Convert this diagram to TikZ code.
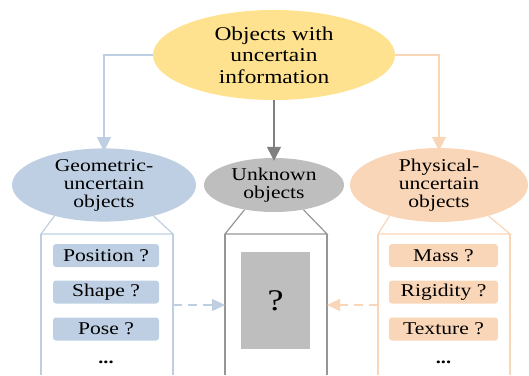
\documentclass[tikz,border=0pt]{standalone}
\usepackage{fontspec}
\setmainfont{Liberation Serif}[FakeStretch=1.2]
\usetikzlibrary{shapes.geometric,arrows.meta}
\definecolor{cyel}{RGB}{255,226,143}
\definecolor{cblue}{RGB}{191,207,227}
\definecolor{cpeach}{RGB}{250,214,184}
\definecolor{cgray}{RGB}{190,190,190}
\definecolor{cdgray}{RGB}{128,128,128}
\definecolor{cline}{RGB}{150,150,150}
\tikzset{
  ell/.style={ellipse, inner sep=0pt, align=center, font=\fontsize{18}{18}\selectfont},
  item/.style={rounded corners=3pt, inner sep=0pt, minimum height=23pt, font=\fontsize{18}{18}\selectfont},
  conn/.style={line width=1.3pt, -{Triangle[length=14pt,width=14pt]}},
  dconn/.style={line width=1.3pt, dash pattern=on 9pt off 6pt, -{Triangle[length=13pt,width=12pt]}},
  boxline/.style={line width=1.2pt},
  dots/.style={font=\fontsize{17}{17}\selectfont\bfseries}
}
\begin{document}
\begin{tikzpicture}[x=1pt,y=-1pt]
\useasboundingbox (0,0) rectangle (529,375);
% main ellipses
\node[ell, fill=cyel, minimum width=242pt, minimum height=90pt, font=\fontsize{19.5}{21.5}\selectfont] (top) at (274,55) {Objects with\\uncertain\\information};
\node[ell, fill=cblue, minimum width=184pt, minimum height=54pt] (geo) at (104,185) {Geometric-\\uncertain\\objects};
\node[ell, fill=cgray, minimum width=140pt, minimum height=54pt] (unk) at (274,185) {Unknown\\objects};
\node[ell, fill=cpeach, minimum width=178pt, minimum height=54pt] (phys) at (439,185) {Physical-\\uncertain\\objects};
% top connectors
\draw[conn, cblue] (top.west) -| ([yshift=-3pt]geo.north);
\draw[conn, cdgray] (top.south) -- ([yshift=-3pt]unk.north);
\draw[conn, cpeach] (top.east) -| ([yshift=-3pt]phys.north);
% box corner coordinates
\coordinate (g1) at (41,234);  \coordinate (g2) at (173,234);
\coordinate (g3) at (41,375);  \coordinate (g4) at (173,375);
\coordinate (u1) at (225,234); \coordinate (u2) at (327,234);
\coordinate (u3) at (225,375); \coordinate (u4) at (327,375);
\coordinate (p1) at (378,234); \coordinate (p2) at (510,234);
\coordinate (p3) at (378,375); \coordinate (p4) at (510,375);
% boxes
\draw[boxline, cblue] (geo.212) -- (g1) -- (g2) -- (geo.328);
\draw[boxline, cblue] (g1) -- (g3) (g2) -- (g4);
\draw[boxline, cline] (unk.220) -- (u1) -- (u2) -- (unk.320);
\draw[boxline, cline] (u1) -- (u3) (u2) -- (u4);
\draw[boxline, cpeach] (phys.212) -- (p1) -- (p2) -- (phys.328);
\draw[boxline, cpeach] (p1) -- (p3) (p2) -- (p4);
% geometric items
\node[item, fill=cblue, minimum width=106pt] (pos) at (106,255.5) {Position ?};
\node[item, fill=cblue, minimum width=106pt] (shp) at (106,292) {Shape ?};
\node[item, fill=cblue, minimum width=106pt] (pose) at (106,329) {Pose ?};
\node[dots] (gd) at (106,362) {...};
% physical items
\node[item, fill=cpeach, minimum width=109pt] (mass) at (443.5,255.5) {Mass ?};
\node[item, fill=cpeach, minimum width=109pt] (rig) at (443.5,292) {Rigidity ?};
\node[item, fill=cpeach, minimum width=109pt] (tex) at (443.5,329) {Texture ?};
\node[dots] (pd) at (443.5,362) {...};
% unknown content
\node[fill=cgray, minimum width=69pt, minimum height=97pt, inner sep=0pt, font=\fontsize{30}{30}\selectfont] (q) at (275.5,300.5) {?};
% dashed arrows
\coordinate (gR) at (173,305); \coordinate (uL) at (225,305);
\coordinate (pL) at (378,305); \coordinate (uR) at (327,305);
\draw[dconn, cblue] (gR) -- (uL);
\draw[dconn, cpeach] (pL) -- (uR);
\end{tikzpicture}
\end{document}
